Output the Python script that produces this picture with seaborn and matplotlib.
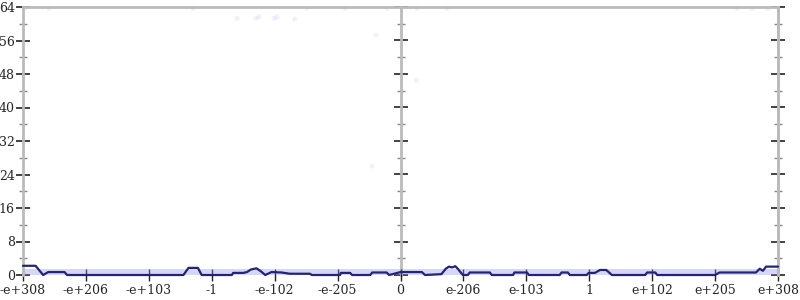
import matplotlib
matplotlib.use("Agg")
import matplotlib.pyplot as plt
import seaborn as sns
import pandas as pd
import numpy as np

# tick positions (evenly spaced, one unit per label)
tick_pos = [-6, -5, -4, -3, -2, -1, 0, 1, 2, 3, 4, 5, 6]
tick_labels = ['-e+308', '-e+206', '-e+103', '-1', '-e-102', '-e-205', '0',
               'e-206', 'e-103', '1', 'e+102', 'e+205', 'e+308']

# main line (position on the axis, count)
line_x = [-6.00, -5.80, -5.68, -5.60, -5.34, -5.30, -3.45, -3.37, -3.22, -3.16,
          -2.68, -2.66, -2.50, -2.44, -2.38, -2.29, -2.22, -2.15, -2.05, -1.89,
          -1.76, -1.44, -1.41, -0.96, -0.95, -0.80, -0.77, -0.48, -0.45, -0.22,
          -0.18, 0.00, 0.34, 0.39, 0.65, 0.72, 0.77, 0.82, 0.87, 0.91,
          0.99, 1.07, 1.10, 1.42, 1.45, 1.79, 1.81, 2.01, 2.04, 2.53,
          2.56, 2.66, 2.69, 2.96, 2.99, 3.09, 3.17, 3.27, 3.36, 3.89,
          3.92, 4.05, 4.08, 5.00, 5.07, 5.65, 5.71, 5.76, 5.81, 6.00]
line_y = [2.2, 2.2, 0.0, 0.7, 0.7, 0.0, 0.0, 1.7, 1.7, 0.0,
          0.0, 0.5, 0.5, 0.7, 1.3, 1.6, 0.9, 0.0, 0.7, 0.6,
          0.3, 0.3, 0.0, 0.0, 0.5, 0.5, 0.0, 0.0, 0.6, 0.6,
          0.0, 0.7, 0.7, 0.0, 0.2, 1.5, 2.0, 1.8, 2.1, 1.5,
          0.0, 0.0, 0.6, 0.6, 0.0, 0.0, 0.6, 0.6, 0.0, 0.0,
          0.6, 0.6, 0.0, 0.0, 0.5, 0.5, 1.2, 1.2, 0.0, 0.0,
          0.6, 0.6, 0.0, 0.0, 0.6, 0.6, 1.5, 1.0, 2.0, 2.0]

# faint scattered points
dot_x = [-5.98, -5.59, -3.30, -2.60, -2.30, -2.25, -2.01, -1.96, -1.68, -1.49,
         -0.88, -0.39, -0.21, 0.26, 0.74, -0.45, 0.25, 5.35, 5.59, 5.84]
dot_y = [63.7, 63.7, 63.7, 61.3, 61.3, 61.6, 61.3, 61.6, 61.1, 63.7,
         63.7, 57.3, 63.7, 63.7, 63.7, 26.0, 46.5, 63.7, 63.7, 63.7]

# band of dense points near zero
band_x = [-6.0, 6.0]
band_top = [1.4, 1.4]

sns.set_style("white")
plt.rcParams['font.family'] = ['DejaVu Serif']

fig = plt.figure(figsize=(8, 3), dpi=100)
ax = fig.add_axes([23 / 800, 1 - 275 / 300, (778 - 23) / 800, (275 - 7) / 300])

ax.fill_between(band_x, 0, band_top, color='#8c8cf0', alpha=0.35, linewidth=0, zorder=1)
sns.scatterplot(x=dot_x, y=dot_y, ax=ax, s=14, color='#9090e0', alpha=0.12,
                edgecolor='none', zorder=1, clip_on=False)
df = pd.DataFrame({'x': line_x, 'y': line_y})
sns.lineplot(data=df, x='x', y='y', ax=ax, color='#23237a', linewidth=1.6,
             zorder=3, clip_on=False)

ax.set_xlim(-6, 6)
ax.set_ylim(0, 64)
ax.set_xlabel('')
ax.set_ylabel('')

ax.set_xticks(tick_pos)
ax.set_xticklabels(tick_labels)
ax.set_yticks(np.arange(0, 65, 8))
ax.set_yticks(np.arange(4, 64, 8), minor=True)

ax.tick_params(axis='x', direction='inout', length=9, width=1, color='#222222',
               labelsize=9, pad=2, bottom=True)
ax.tick_params(axis='y', which='major', direction='inout', length=10, width=1.2,
               color='#222222', labelsize=9, pad=1, left=True)
ax.tick_params(axis='y', which='minor', direction='inout', length=6, width=1,
               color='#888888', left=True)

for s in ['left', 'right', 'top']:
    ax.spines[s].set_color('#bbbbbb')
    ax.spines[s].set_linewidth(2)
ax.spines['bottom'].set_visible(False)

for loc in [0.5, 'right']:
    sec = ax.secondary_yaxis(loc)
    sec.set_yticks(np.arange(0, 65, 8))
    sec.set_yticks(np.arange(4, 64, 8), minor=True)
    sec.tick_params(axis='y', which='major', direction='inout', length=10, width=1.2,
                    color='#222222', labelleft=False, labelright=False)
    sec.tick_params(axis='y', which='minor', direction='inout', length=6, width=1,
                    color='#888888')
    for s in sec.spines.values():
        s.set_color('#bbbbbb')
        s.set_linewidth(2)

fig.savefig('out.png', dpi=100)
